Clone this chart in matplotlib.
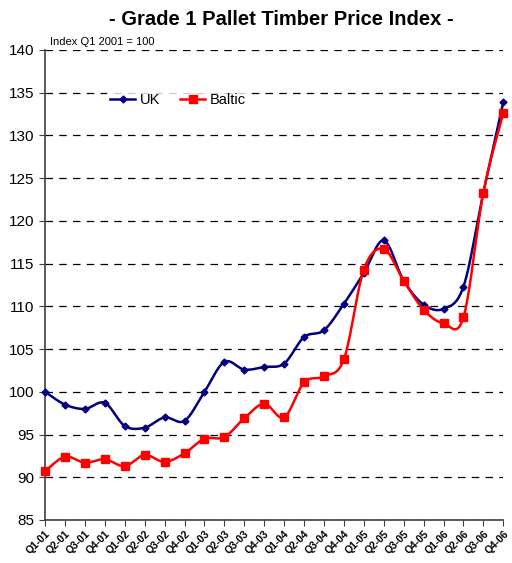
import numpy as np
import matplotlib
matplotlib.use("Agg")
import matplotlib.pyplot as plt

plt.rcParams['font.family'] = ['Liberation Sans', 'DejaVu Sans']

quarters = ['Q1-01', 'Q2-01', 'Q3-01', 'Q4-01', 'Q1-02', 'Q2-02', 'Q3-02', 'Q4-02',
            'Q1-03', 'Q2-03', 'Q3-03', 'Q4-03', 'Q1-04', 'Q2-04', 'Q3-04', 'Q4-04',
            'Q1-05', 'Q2-05', 'Q3-05', 'Q4-05', 'Q1-06', 'Q2-06', 'Q3-06', 'Q4-06']
uk = [100.0, 98.5, 98.0, 98.7, 96.0, 95.8, 97.0, 96.6,
      100.0, 103.5, 102.6, 102.9, 103.3, 106.4, 107.2, 110.3,
      113.9, 117.7, 113.0, 110.2, 109.7, 112.3, 123.3, 133.9]
baltic = [90.7, 92.4, 91.7, 92.1, 91.3, 92.6, 91.8, 92.8,
          94.5, 94.7, 96.9, 98.6, 97.0, 101.1, 101.8, 103.8,
          114.3, 116.7, 113.0, 109.6, 108.0, 108.7, 123.3, 132.6]


def smooth(y, n=20):
    # Excel-style smoothed line: Catmull-Rom bezier through the points
    y = np.asarray(y, dtype=float)
    x = np.arange(len(y), dtype=float)
    xs, ys = [], []
    for i in range(len(y) - 1):
        p0 = i - 1 if i > 0 else i
        p3 = i + 2 if i + 2 < len(y) else i + 1
        c1x = x[i] + (x[i + 1] - x[p0]) / 6
        c1y = y[i] + (y[i + 1] - y[p0]) / 6
        c2x = x[i + 1] - (x[p3] - x[i]) / 6
        c2y = y[i + 1] - (y[p3] - y[i]) / 6
        t = np.linspace(0, 1, n, endpoint=False)
        a, b, c, d = (1 - t) ** 3, 3 * (1 - t) ** 2 * t, 3 * (1 - t) * t ** 2, t ** 3
        xs.append(a * x[i] + b * c1x + c * c2x + d * x[i + 1])
        ys.append(a * y[i] + b * c1y + c * c2y + d * y[i + 1])
    xs.append([x[-1]])
    ys.append([y[-1]])
    return np.concatenate(xs), np.concatenate(ys)


fig = plt.figure(figsize=(5.12, 5.63), dpi=100)
ax = fig.add_axes([0.088, 0.0764, 0.895, 0.835])

pos = np.arange(len(quarters))
for vals, col, mk, ms, lab in [(uk, '#000080', 'D', 3.5, 'UK'),
                               (baltic, '#FF0000', 's', 5.5, 'Baltic')]:
    sx, sy = smooth(vals)
    ax.plot(sx, sy, color=col, lw=1.8, zorder=3, clip_on=False)
    ax.plot(pos, vals, linestyle='none', marker=mk, ms=ms, color=col, zorder=4,
            clip_on=False)
    ax.plot([], [], color=col, lw=1.8, marker=mk, ms=ms, label=lab)

ax.set_xlim(0, len(quarters) - 1)
ax.set_ylim(85, 140)
ax.set_yticks(np.arange(85, 141, 5))
ax.set_xticks(pos)
ax.set_xticklabels(quarters, rotation=45, ha='right', rotation_mode='anchor',
                   fontsize=7.5, fontweight='bold')
ax.tick_params(axis='y', labelsize=11, length=4, direction='out', color='#404040')
ax.tick_params(axis='x', length=4, direction='out', color='#404040', pad=2)
ax.grid(axis='y', color='black', linestyle=(0, (6, 5)), lw=0.9)
ax.set_axisbelow(True)
for s in ['top', 'right']:
    ax.spines[s].set_visible(False)
for s in ['left', 'bottom']:
    ax.spines[s].set_color('#404040')
    ax.spines[s].set_linewidth(1.2)

ax.legend(loc='upper left', bbox_to_anchor=(0.12, 0.93), ncol=2, frameon=True,
          facecolor='white', edgecolor='none', fontsize=10.5, handlelength=1.7,
          handletextpad=0.3, columnspacing=1.4, borderpad=0.2)

fig.text(0.55, 0.965, '- Grade 1 Pallet Timber Price Index -', ha='center',
         va='center', fontsize=14.5, fontweight='bold')
fig.text(0.098, 0.925, 'Index Q1 2001 = 100', ha='left', va='center', fontsize=8)

fig.savefig('out.png', dpi=100)
